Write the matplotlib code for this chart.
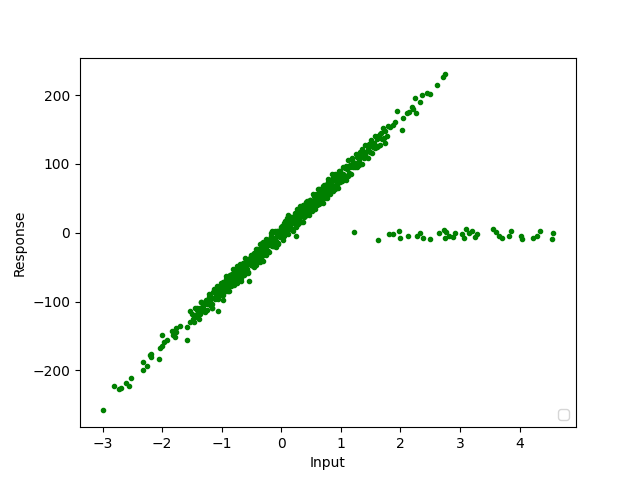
import matplotlib
matplotlib.use("Agg")
import matplotlib.pyplot as plt

# Tail points of the main linear cloud
tail_x = [-3.00, -2.80, -2.73, -2.69, -2.61, -2.56, -2.52, -2.32, -2.25, -2.32,
          -2.21, -2.19, -2.05, -2.03, -2.00, -2.00, -1.96, -1.92, -1.82, -1.77,
          -2.18, -1.84, -1.79, -1.76, -1.70, -1.59, -1.54, -1.59, -1.54, -1.48,
          -1.40, -1.31, -1.23, -1.17, -1.06, -1.09, -1.00, -0.98,
          -1.45, -1.42, -1.38,
          2.75, 2.71, 2.62, 2.50, 2.45, 2.37, 2.24, 2.33, 2.20, 2.22,
          2.27, 1.95, 2.11, 2.15, 2.05, 1.91, 1.88, 1.83, 2.03, 1.71,
          1.62, 1.65, 1.68, 1.72, 1.75, 1.78, 1.80, 1.74]
tail_y = [-258, -222, -227, -225, -218, -222, -211, -188, -193, -199,
          -178, -176, -184, -168, -164, -148, -159, -156, -149, -144,
          -181, -142, -152, -139, -135, -137, -130, -156, -113, -125,
          -118, -105, -98, -110, -113, -93, -88, -98,
          -122, -112, -118,
          230, 226, 215, 201, 203, 200, 196, 190, 183, 180,
          174, 177, 174, 175, 167, 161, 156, 153, 149, 152,
          140, 128, 145, 138, 148, 141, 155, 130]

# Dense core of the cloud (estimated)
core_x = [-1.50, -1.47, -1.45, -1.43, -1.41, -1.38, -1.36, -1.34, -1.32, -1.30,
          -1.28, -1.26, -1.24, -1.22, -1.20, -1.18, -1.16, -1.14, -1.12, -1.10,
          -1.08, -1.06, -1.04, -1.03, -1.01,
          -0.99, -0.98, -0.97, -0.96, -0.95, -0.94, -0.93, -0.92, -0.91, -0.90,
          -0.89, -0.88, -0.87, -0.86, -0.85, -0.84, -0.83, -0.82, -0.81, -0.80,
          -0.79, -0.78, -0.77, -0.76, -0.75, -0.74, -0.73, -0.72, -0.71, -0.70,
          -0.69, -0.68, -0.67, -0.66, -0.65, -0.64, -0.63, -0.62, -0.61, -0.60,
          -0.59, -0.58, -0.57, -0.56, -0.55, -0.54, -0.53, -0.52, -0.51, -0.50,
          -0.49, -0.48, -0.46, -0.45, -0.43, -0.42, -0.40, -0.39, -0.37, -0.36,
          -0.34, -0.33, -0.31, -0.30, -0.28, -0.27, -0.25, -0.24, -0.22, -0.21,
          -0.19, -0.18, -0.16, -0.15, -0.13, -0.12, -0.10, -0.09, -0.07, -0.06,
          -0.04, -0.03, -0.01,
          -0.50, -0.47, -0.44, -0.41, -0.38, -0.35, -0.32, -0.29, -0.26, -0.23,
          -0.20, -0.17, -0.14, -0.11, -0.08, -0.05, -0.02,
          0.01, 0.02, 0.04, 0.05, 0.07, 0.08, 0.10, 0.11, 0.13, 0.14,
          0.16, 0.17, 0.19, 0.20, 0.22, 0.23, 0.25, 0.26, 0.28, 0.29,
          0.31, 0.32, 0.34, 0.35, 0.37, 0.38, 0.40, 0.41, 0.43, 0.44,
          0.46, 0.47, 0.49,
          0.00, 0.03, 0.06, 0.09, 0.12, 0.15, 0.18, 0.21, 0.24, 0.27,
          0.30, 0.33, 0.36, 0.39, 0.42, 0.45, 0.48,
          0.50, 0.51, 0.52, 0.53, 0.54, 0.55, 0.56, 0.57, 0.58, 0.59,
          0.60, 0.61, 0.62, 0.63, 0.64, 0.65, 0.66, 0.67, 0.68, 0.69,
          0.70, 0.71, 0.72, 0.73, 0.74, 0.75, 0.76, 0.77, 0.78, 0.79,
          0.80, 0.81, 0.82, 0.83, 0.84, 0.85, 0.86, 0.87, 0.88, 0.89,
          0.90, 0.91, 0.92, 0.93, 0.94, 0.95, 0.96, 0.97, 0.98, 0.99,
          1.00, 1.02, 1.04, 1.05, 1.07, 1.09, 1.10, 1.12, 1.14, 1.15,
          1.17, 1.19, 1.21, 1.23, 1.25, 1.27, 1.29, 1.31, 1.33, 1.35,
          1.37, 1.39, 1.41, 1.43, 1.45, 1.47, 1.49, 1.51, 1.53, 1.55,
          1.57, 1.60, 1.63, 1.66, 1.69]
core_y = [-118, -129, -109, -120, -109, -125, -110, -101, -114, -103,
          -115, -97, -104, -89, -105, -94, -109, -86, -96, -89,
          -77, -96, -80, -88, -76,
          -87, -71, -91, -76, -71, -79, -85, -63, -74, -79,
          -67, -85, -67, -61, -77, -70, -60, -71, -52, -76,
          -63, -70, -54, -65, -57, -73, -53, -58, -66, -46,
          -61, -53, -70, -48, -44, -55, -59, -47, -37, -58,
          -47, -53, -39, -57, -42, -70, -37, -46, -32, -47,
          -32, -48, -35, -50, -24, -38, -27, -33, -40, -17,
          -26, -34, -16, -41, -18, -25, -9, -28, -17, -28,
          -9, -11, -19, 3, -13, -19, 2, -12, -3, -17,
          3, -4, 8,
          -44, -34, -44, -24, -29, -43, -19, -29, -32, -15,
          -18, -5, -19, -8, -20, 2, -6,
          -6, 6, 14, -5, 8, 3, 21, -2, 17, 10,
          5, 23, 17, 2, 23, 29, 15, 24, 13, 31,
          39, 23, 16, 35, 29, 39, 24, 38, 46, 30,
          40, 26, 47,
          3, -10, 12, 2, 26, 11, 6, 22, -4, 34,
          19, 29, 16, 41, 31, 43, 31,
          46, 32, 45, 56, 38, 53, 43, 34, 57, 49,
          41, 64, 49, 58, 42, 56, 64, 50, 55, 64,
          43, 62, 70, 53, 63, 58, 71, 51, 70, 78,
          63, 57, 68, 76, 63, 85, 69, 61, 77, 76,
          66, 86, 70, 77, 84, 65, 83, 78, 90, 74,
          86, 75, 95, 83, 94, 77, 92, 105, 87, 95,
          86, 106, 102, 96, 114, 96, 111, 105, 118, 100,
          118, 110, 128, 110, 121, 129, 117, 134, 116, 130,
          123, 136, 126, 143, 136]

# Additional core points filling the band (estimated)
fill_x = [-1.40, -1.37, -1.34, -1.31, -1.28, -1.25, -1.22, -1.19, -1.16, -1.13,
          -1.10, -1.07, -1.04, -1.01, -0.98, -0.95, -0.92, -0.89, -0.86, -0.83,
          -0.80, -0.77, -0.74, -0.71, -0.68, -0.65, -0.62, -0.59, -0.56, -0.53,
          -0.50, -0.47, -0.44, -0.41, -0.38, -0.35, -0.32, -0.29, -0.26, -0.23,
          -0.20, -0.17, -0.14, -0.11, -0.08, -0.05, -0.02, 0.01, 0.04, 0.07,
          0.10, 0.13, 0.16, 0.19, 0.22, 0.25, 0.28, 0.31, 0.34, 0.37,
          0.40, 0.43, 0.46, 0.49, 0.52, 0.55, 0.58, 0.61, 0.64, 0.67,
          0.70, 0.73, 0.76, 0.79, 0.82, 0.85, 0.88, 0.91, 0.94, 0.97,
          1.00, 1.03, 1.06, 1.09, 1.12, 1.15, 1.18, 1.21, 1.24, 1.27,
          1.30, 1.33, 1.36, 1.39, 1.42, 1.45, 1.48, 1.51, 1.54, 1.57,
          1.60,
          -0.985, -0.945, -0.905, -0.865, -0.825, -0.785, -0.745, -0.705, -0.665, -0.625,
          -0.585, -0.545, -0.505, -0.465, -0.425, -0.385, -0.345, -0.305, -0.265, -0.225,
          -0.185, -0.145, -0.105, -0.065, -0.025, 0.015, 0.055, 0.095, 0.135, 0.175,
          0.215, 0.255, 0.295, 0.335, 0.375, 0.415, 0.455, 0.495, 0.535, 0.575,
          0.615, 0.655, 0.695, 0.735, 0.775, 0.815, 0.855, 0.895, 0.935, 0.975]
fill_y = [-113, -118, -101, -110, -100, -112, -93, -98, -103, -82,
          -94, -85, -92, -73, -79, -83, -67, -84, -66, -70,
          -54, -69, -60, -51, -65, -50, -52, -39, -58, -38,
          -35, -43, -46, -32, -23, -36, -15, -27, -21, -28,
          -11, -1, -16, -10, 0, -15, 2, 10, -3, 8,
          5, 21, 5, 22, 19, 8, 30, 23, 32, 41,
          26, 35, 33, 48, 46, 35, 54, 49, 64, 49,
          59, 51, 67, 74, 63, 69, 79, 64, 80, 90,
          76, 85, 84, 97, 83, 99, 109, 95, 102, 110,
          99, 112, 121, 109, 117, 109, 128, 128, 124, 140,
          125,
          -85, -72, -75, -61, -76, -61, -49, -63, -48, -61,
          -47, -40, -44, -29, -47, -28, -34, -14, -20, -27,
          -9, -13, -19, 3, 1, -4, 17, 1, 13, 23,
          14, 10, 30, 29, 23, 44, 35, 46, 35, 54,
          53, 48, 68, 57, 65, 57, 78, 77, 70, 82]

# Outliers near zero response
out_x = [1.22, 1.63, 1.81, 1.88, 1.98, 2.00, 2.13, 2.28, 2.33, 2.38,
         2.49, 2.65, 2.74, 2.77, 2.81, 2.75, 2.89, 2.92, 3.04, 3.11,
         3.07, 3.16, 3.21, 3.26, 3.29, 3.55, 3.60, 3.65, 3.71, 3.85,
         3.82, 4.02, 4.05, 4.23, 4.30, 4.35, 4.57, 4.55]
out_y = [1, -11, -2, -2, 2, -8, -4, -4, -1, -8,
         -9, -1, 4, 1, -4, -8, -6, -1, -2, 6,
         -8, -1, 2, -6, -2, 6, 1, -4, -8, 2,
         -4, -4, -9, -8, -4, 2, -1, -9]

x = tail_x + core_x + fill_x + out_x
y = tail_y + core_y + fill_y + out_y

fig, ax = plt.subplots(figsize=(6.4, 4.8), dpi=100)
ax.plot(x, y, '.', color='green')
ax.set_xlabel('Input')
ax.set_ylabel('Response')
ax.legend(handles=[], loc='lower right')
fig.savefig('out.png')
